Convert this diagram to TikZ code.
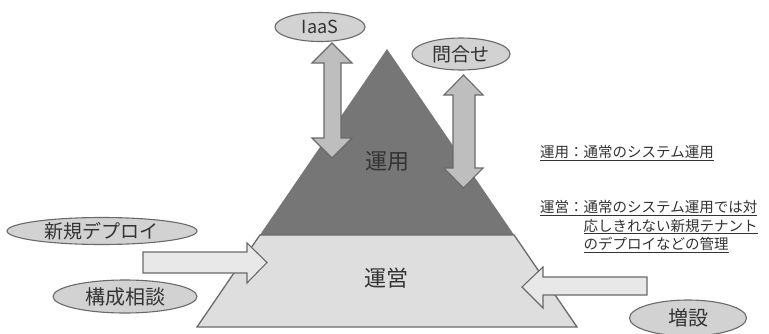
\documentclass[tikz,border=0pt]{standalone}
\usepackage{fontspec}
\setmainfont{Noto Sans CJK JP}
\usetikzlibrary{shapes.geometric}
\definecolor{darktri}{HTML}{767676}
\definecolor{lighttri}{HTML}{DEDEDE}
\definecolor{edgegray}{HTML}{6A6A6A}
\definecolor{ellfill}{HTML}{D2D2D2}
\definecolor{vfill}{HTML}{BEBEBE}
\definecolor{hfill}{HTML}{E8E8E8}
\definecolor{txt}{HTML}{333333}
\tikzset{
  oval/.style={ellipse, draw=edgegray, fill=ellfill, line width=1.1pt, inner sep=0pt, text=txt},
  blockarrow/.style={draw=edgegray, line width=1.1pt, line join=miter},
  note/.style={anchor=west, inner sep=0pt, text=txt, font=\fontsize{14.5}{18.5}\selectfont},
  big/.style={text=txt, inner sep=0pt, font=\fontsize{22}{24}\selectfont}
}
\begin{document}
\begin{tikzpicture}[x=1pt,y=-1pt]
\useasboundingbox (0,0) rectangle (769,333);
\fill[white] (0,0) rectangle (769,333);
% pyramid
\fill[darktri] (387,49) -- (259.9,235) -- (514.1,235) -- cycle;
\filldraw[fill=lighttri, draw=edgegray, line width=1.3pt, line join=miter]
  (259.9,235) -- (514.1,235) -- (577,327) -- (197,327) -- cycle;
\node[big] (unyo) at (387,161) {運用};
\node[big] (uneii) at (386,278) {運営};
% vertical double arrows
\filldraw[blockarrow, fill=vfill]
  (332,43) -- (352,63) -- (341,63) -- (341,138) -- (352,138) -- (332,158)
  -- (312,138) -- (324,138) -- (324,63) -- (312,63) -- cycle;
\filldraw[blockarrow, fill=vfill]
  (463.5,75) -- (483,95) -- (475,95) -- (475,168) -- (483,168) -- (463.5,188)
  -- (444,168) -- (453,168) -- (453,95) -- (444,95) -- cycle;
% horizontal arrows
\filldraw[blockarrow, fill=hfill]
  (143,252) -- (247,252) -- (247,243) -- (267,262.5) -- (247,283) -- (247,273) -- (143,273) -- cycle;
\filldraw[blockarrow, fill=hfill]
  (647,277) -- (543,277) -- (543,267) -- (522,287) -- (543,308) -- (543,295) -- (647,295) -- cycle;
% ellipses
\node[oval, minimum width=90pt, minimum height=29pt, font=\fontsize{18}{20}\selectfont] (iaas) at (320,27) {IaaS};
\node[oval, minimum width=98pt, minimum height=32pt, font=\fontsize{19}{21}\selectfont] (toiawase) at (461,54) {問合せ};
\node[oval, minimum width=190pt, minimum height=27pt, font=\fontsize{19}{21}\selectfont] (deploy) at (102,231) {新規デプロイ};
\node[oval, minimum width=144pt, minimum height=33pt, font=\fontsize{20}{22}\selectfont] (kousei) at (125,296.5) {構成相談};
\node[oval, minimum width=117pt, minimum height=36pt, font=\fontsize{20}{22}\selectfont] (zousetsu) at (688,318) {増設};
% notes
\node[note] (n1) at (540,153) {\underline{運用：通常のシステム運用}};
\node[note] (n2) at (540,208) {\underline{運営：通常のシステム運用では対}};
\node[note] (n3) at (540,226.5) {\phantom{運営：}\underline{応しきれない新規テナント}};
\node[note] (n4) at (540,245) {\phantom{運営：}\underline{のデプロイなどの管理}};
\end{tikzpicture}
\end{document}
